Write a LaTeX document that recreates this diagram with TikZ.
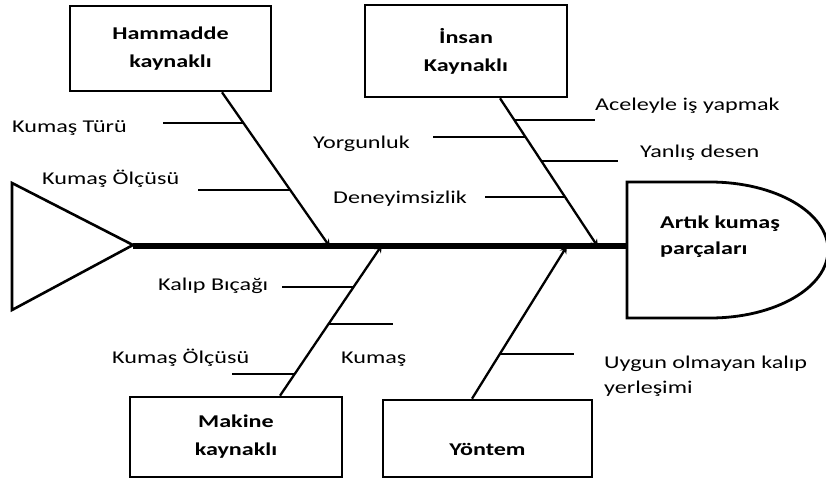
\documentclass[tikz,border=0pt]{standalone}
\usepackage{fontspec}
\setmainfont{Carlito}[FakeStretch=1.34]
\usetikzlibrary{calc}

\begin{document}
\begin{tikzpicture}[>=stealth,x=1pt,y=-1pt,
    causebox/.style={draw,line width=2.6pt,align=center,inner sep=0pt,
        font=\bfseries\fontsize{18}{28}\selectfont},
    boxtext/.style={inner sep=0pt,font=\bfseries\fontsize{18}{26}\selectfont},
    bone/.style={line width=2.3pt},
    twig/.style={line width=2.3pt},
    lbl/.style={anchor=base west,inner sep=0pt,font=\fontsize{18}{25}\selectfont}]
    \useasboundingbox (0,0) rectangle (826,479);
    % fish tail, spine and head
    \draw[line width=2.6pt] (12,183) -- (133,245) -- (12,310) -- cycle;
    \coordinate (tail) at (133,246);
    \draw[line width=2.8pt] (627,182) -- (710,182)
        arc[start angle=-90,end angle=90,x radius=118,y radius=68] -- (627,318) -- cycle;
    \coordinate (head) at (627,246);
    \node[boxtext,anchor=west,align=left] (effect) at (660,237) {Artık kumaş\\parçaları};
    \draw[line width=6pt] (tail) -- (head);
    % cause boxes
    \node[causebox,minimum width=201pt,minimum height=85pt] (ham) at (170.5,48.5) {Hammadde\\kaynaklı};
    \node[causebox,minimum width=202pt,minimum height=92pt] (ins) at (466,51) {İnsan\\Kaynaklı};
    \node[causebox,minimum width=212pt,minimum height=80pt] (mak) at (236,437) {Makine\\kaynaklı};
    \node[causebox,minimum width=209pt,minimum height=77pt] (yon) at (487.5,438.5) {};
    \node[boxtext] (yon text) at ([yshift=-11pt]yon.center) {Yöntem};
    % bones
    \coordinate (hamfoot) at ([xshift=51.5pt]ham.south);
    \coordinate (hamtip) at (330,247);
    \coordinate (insfoot) at ([xshift=34pt]ins.south);
    \coordinate (instip) at (598,247);
    \coordinate (makfoot) at ([xshift=44pt]mak.north);
    \coordinate (maktip) at (382,245);
    \coordinate (yonfoot) at ([xshift=-15.5pt]yon.north);
    \coordinate (yontip) at (567,246);
    \draw[bone,->] (hamfoot) -- (hamtip);
    \draw[bone,->] (insfoot) -- (instip);
    \draw[bone,->] (makfoot) -- (maktip);
    \draw[bone,->] (yonfoot) -- (yontip);
    % sub causes
    \draw[twig] ($(hamfoot)!0.2!(hamtip)$) -- ++(-80.6,0);
    \draw[twig] ($(hamfoot)!0.632!(hamtip)$) -- ++(-92,0);
    \draw[twig] ($(insfoot)!0.148!(instip)$) -- ++(80.5,0);
    \draw[twig] ($(insfoot)!0.262!(instip)$) -- ++(-93,0);
    \draw[twig] ($(insfoot)!0.423!(instip)$) -- ++(76.5,0);
    \draw[twig] ($(insfoot)!0.664!(instip)$) -- ++(-80,0);
    \draw[twig] ($(makfoot)!0.722!(maktip)$) -- ++(-71.6,0);
    \draw[twig] ($(makfoot)!0.477!(maktip)$) -- ++(64.4,0);
    \draw[twig] ($(makfoot)!0.146!(maktip)$) -- ++(-63,0);
    \draw[twig] ($(yonfoot)!0.294!(yontip)$) -- ++(74,0);
    % labels
    \node[lbl] (kturu) at (12,132) {Kumaş Türü};
    \node[lbl] (kolcu) at (42,184) {Kumaş Ölçüsü};
    \node[lbl] (yorgun) at (313,148) {Yorgunluk};
    \node[lbl] (deney) at (333,203) {Deneyimsizlik};
    \node[lbl] (acele) at (595,110) {Aceleyle iş yapmak};
    \node[lbl] (desen) at (640,157) {Yanlış desen};
    \node[lbl] (bicak) at (158,290) {Kalıp Bıçağı};
    \node[lbl] (kolcu2) at (112,363) {Kumaş Ölçüsü};
    \node[lbl] (kumas) at (341,363) {Kumaş};
    \node[lbl,anchor=west,align=left] (yerlesim) at (604,376) {Uygun olmayan kalıp\\yerleşimi};
\end{tikzpicture}
\end{document}
